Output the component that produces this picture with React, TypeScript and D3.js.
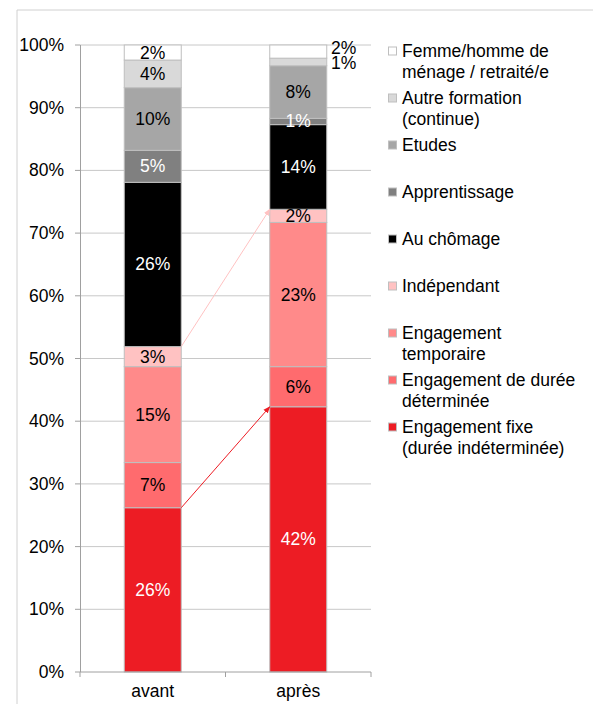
import React from "react";
import * as d3 from "d3";

const categories = ["avant", "après"];
const seriesNames = [
  "Engagement fixe\n(durée indéterminée)",
  "Engagement de durée\ndéterminée",
  "Engagement\ntemporaire",
  "Indépendant",
  "Au chômage",
  "Apprentissage",
  "Etudes",
  "Autre formation\n(continue)",
  "Femme/homme de\nménage / retraité/e",
];
const seriesColors = ["#ED1C24", "#FF6B6E", "#FF8A8A", "#FFC2C2", "#000000", "#808080", "#A6A6A6", "#D9D9D9", "#FFFFFF"];
const labelColors = ["#fff", "#000", "#000", "#000", "#fff", "#fff", "#000", "#000", "#000"];
const avantValues = [26.2, 7.2, 15.3, 3.2, 26.2, 5.1, 10.0, 4.4, 2.4];
const apresValues = [42.3, 6.4, 23.0, 2.1, 13.5, 1.0, 8.4, 1.2, 2.1];
const yTicks = [0, 10, 20, 30, 40, 50, 60, 70, 80, 90, 100];

const W = 593;
const H = 704;
const FONT = "'Liberation Sans', Arial, sans-serif";
const FS = 17.5;

export default function App() {
  const values = [avantValues, apresValues];
  const x = d3.scaleBand<string>().domain(categories).range([80, 371]);
  const y = d3.scaleLinear().domain([0, 100]).range([672, 45]);
  const barW = 57;

  const stacks = values.map((vals) => {
    let acc = 0;
    return vals.map((v) => {
      const s = { y0: acc, y1: acc + v, v };
      acc += v;
      return s;
    });
  });

  const barX = (ci: number) => (x(categories[ci]) as number) + x.bandwidth() / 2 - barW / 2;

  const a0x = barX(0) + barW;
  const a1x = barX(1);
  const redFrom = [a0x, y(stacks[0][0].y1)];
  const redTo = [a1x, y(stacks[1][0].y1)];
  const pinkFrom = [a0x, y(stacks[0][3].y1)];
  const pinkTo = [a1x, y(stacks[1][3].y1)];

  const outside: Record<string, number> = { "1-8": -4, "1-7": 1.5 };

  return (
    <svg
      width={W}
      height={H}
      style={{ position: "absolute", left: 0, top: 0, display: "block", background: "#fff" }}
      fontFamily={FONT}
    >
      <defs>
        <marker id="arrRed" viewBox="0 0 10 10" refX="9" refY="5" markerWidth="7" markerHeight="7" orient="auto">
          <path d="M0,1 L10,5 L0,9 z" fill="#ED1C24" />
        </marker>
        <marker id="arrPink" viewBox="0 0 10 10" refX="9" refY="5" markerWidth="7" markerHeight="7" orient="auto">
          <path d="M0,1 L10,5 L0,9 z" fill="#FFC2C2" />
        </marker>
      </defs>
      <line x1={17} y1={10} x2={W} y2={10} stroke="#D0D0D0" strokeWidth={1} />
      <line x1={17} y1={10} x2={17} y2={H} stroke="#D0D0D0" strokeWidth={1} />

      {yTicks.map((t) => (
        <g key={t}>
          {t > 0 && <line x1={80} x2={371} y1={y(t)} y2={y(t)} stroke="#C8C8C8" strokeWidth={1} />}
          <line x1={75} x2={80} y1={y(t)} y2={y(t)} stroke="#A0A0A0" strokeWidth={1} />
          <text x={64} y={y(t) + 6} textAnchor="end" fontSize={FS} fill="#000">
            {t}%
          </text>
        </g>
      ))}

      {stacks.map((st, ci) =>
        st.map((s, si) => (
          <rect
            key={`${ci}-${si}`}
            x={barX(ci)}
            y={y(s.y1)}
            width={barW}
            height={y(s.y0) - y(s.y1)}
            fill={seriesColors[si]}
            stroke="#BFBFBF"
            strokeWidth={1}
          />
        ))
      )}

      <line x1={80.5} x2={80.5} y1={y(100)} y2={y(0)} stroke="#A0A0A0" strokeWidth={1} />
      <line x1={80} x2={371} y1={y(0)} y2={y(0)} stroke="#A0A0A0" strokeWidth={1} />
      {[80, 80 + x.bandwidth(), 371].map((tx, i) => (
        <line key={i} x1={tx} x2={tx} y1={y(0)} y2={y(0) + 5} stroke="#A0A0A0" strokeWidth={1} />
      ))}
      {categories.map((c) => (
        <text key={c} x={(x(c) as number) + x.bandwidth() / 2} y={697} textAnchor="middle" fontSize={FS} fill="#000">
          {c}
        </text>
      ))}

      {stacks.map((st, ci) =>
        st.map((s, si) => {
          const key = `${ci}-${si}`;
          const cy = (y(s.y0) + y(s.y1)) / 2;
          const label = `${Math.round(s.v)}%`;
          if (key in outside) {
            return (
              <text key={key} x={barX(ci) + barW + 17} y={cy + outside[key] + 6} textAnchor="middle" fontSize={FS} fill="#000">
                {label}
              </text>
            );
          }
          return (
            <text key={key} x={barX(ci) + barW / 2} y={cy + 6} textAnchor="middle" fontSize={FS} fill={labelColors[si]}>
              {label}
            </text>
          );
        })
      )}

      <line x1={redFrom[0]} y1={redFrom[1]} x2={redTo[0]} y2={redTo[1]} stroke="#ED1C24" strokeWidth={1} markerEnd="url(#arrRed)" />
      <line x1={pinkFrom[0]} y1={pinkFrom[1]} x2={pinkTo[0]} y2={pinkTo[1]} stroke="#FFC2C2" strokeWidth={1} markerEnd="url(#arrPink)" />

      {seriesNames
        .map((n, i) => ({ n, i }))
        .reverse()
        .map(({ n, i }, k) => {
          const my = 51 + k * 47;
          const lines = n.split("\n");
          return (
            <g key={n}>
              <rect x={388.5} y={my - 4} width={8} height={8} fill={seriesColors[i]} stroke="#BFBFBF" strokeWidth={1} />
              {lines.map((ln, li) => (
                <text key={li} x={402} y={my + 6 + li * 21} fontSize={FS} fill="#000">
                  {ln}
                </text>
              ))}
            </g>
          );
        })}
    </svg>
  );
}
